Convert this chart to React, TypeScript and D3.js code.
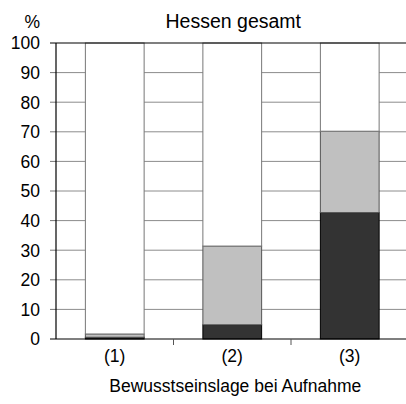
import React from "react";
import * as d3 from "d3";

const categories = ["(1)", "(2)", "(3)"];
const darkValues = [0.6, 4.8, 42.7];
const grayValues = [1.1, 26.6, 27.5];
const whiteValues = [98.3, 68.6, 29.8];
const yTicks = [0, 10, 20, 30, 40, 50, 60, 70, 80, 90, 100];
const title = "Hessen gesamt";
const xTitle = "Bewusstseinslage bei Aufnahme";
const yUnit = "%";

const W = 406;
const H = 404;
const left = 56;
const right = 408.5;
const top = 43;
const bottom = 339;
const font = "'Liberation Sans', Arial, sans-serif";

export default function App() {
  const x = d3.scaleBand<string>().domain(categories).range([left, right]).paddingInner(0.5).paddingOuter(0.25);
  const y = d3.scaleLinear().domain([0, 100]).range([bottom, top]);
  const series = [
    { vals: darkValues, fill: "#333333", stroke: "#000000" },
    { vals: grayValues, fill: "#c0c0c0", stroke: "#555555" },
    { vals: whiteValues, fill: "#ffffff", stroke: "#777777" },
  ];
  const stacked = categories.map((c, i) => {
    let acc = 0;
    return series.map((s) => {
      const y0 = acc;
      acc += s.vals[i];
      return { c, y0, y1: Math.min(acc, 100), fill: s.fill, stroke: s.stroke };
    });
  });
  const step = x.step();
  const boundaries = categories.slice(1).map((c) => (x(c) as number) - (step * x.paddingInner()) / 2);
  return (
    <svg width={W} height={H} style={{ position: "absolute", left: 0, top: 0, background: "#fff" }} fontFamily={font}>
      <rect x={0} y={0} width={W} height={H} fill="#fff" />
      {yTicks.filter((t) => t > 0 && t < 100).map((t) => (
        <line key={"g" + t} x1={left} x2={W} y1={y(t)} y2={y(t)} stroke="#8c8c8c" strokeWidth={1} />
      ))}
      {yTicks.map((t) => (
        <g key={"t" + t}>
          <line x1={left - 6} x2={left} y1={y(t)} y2={y(t)} stroke={t === 0 || t === 100 ? "#000" : "#777"} />
          <text x={40} y={y(t)} dy="0.36em" textAnchor="end" fontSize={17.5} fill="#000">{t}</text>
        </g>
      ))}
      {stacked.map((segs, i) =>
        segs.map((s, j) => (
          <rect
            key={i + "-" + j}
            x={x(s.c)}
            width={x.bandwidth()}
            y={y(s.y1)}
            height={y(s.y0) - y(s.y1)}
            fill={s.fill}
            stroke={s.stroke}
            strokeWidth={1}
          />
        ))
      )}
      <line x1={left} x2={W} y1={top} y2={top} stroke="#000" strokeWidth={1.2} />
      <line x1={left} x2={left} y1={top} y2={bottom} stroke="#000" strokeWidth={1.2} />
      <line x1={left} x2={W} y1={bottom} y2={bottom} stroke="#000" strokeWidth={1.2} />
      {boundaries.map((b, i) => (
        <line key={"b" + i} x1={b} x2={b} y1={bottom} y2={bottom + 6} stroke="#555" strokeWidth={1} />
      ))}
      {categories.map((c) => (
        <text key={"c" + c} x={(x(c) as number) + x.bandwidth() / 2} y={362} textAnchor="middle" fontSize={17.5} fill="#000">{c}</text>
      ))}
      <text x={(left + right) / 2 + 3} y={392} textAnchor="middle" fontSize={17.5} fill="#000">{xTitle}</text>
      <text x={(left + right) / 2 + 1} y={27.5} textAnchor="middle" fontSize={19.5} fill="#000">{title}</text>
      <text x={40} y={27.5} textAnchor="end" fontSize={17.5} fill="#000">{yUnit}</text>
    </svg>
  );
}
